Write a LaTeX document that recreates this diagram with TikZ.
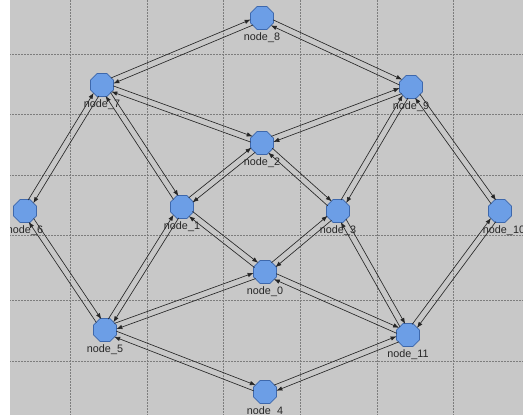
\documentclass[tikz,border=0pt]{standalone}
\usepackage{fontspec}
\setmainfont{Liberation Sans}
\usetikzlibrary{arrows.meta, positioning, shapes.geometric, calc}
\definecolor{bggray}{RGB}{200,200,200}
\definecolor{gridgray}{RGB}{125,125,125}
\definecolor{nodeblue}{RGB}{108,158,230}
\definecolor{nodeedge}{RGB}{62,104,172}

\begin{document}
\begin{tikzpicture}[
x=1pt, y=-1pt,
node distance=2.5pt,
host/.style={regular polygon, regular polygon sides=8, minimum size=25pt, inner sep=0pt, fill=nodeblue, draw=nodeedge, line width=0.8pt},
tag/.style={font=\fontsize{10.8}{12}\selectfont, text=black!85, inner sep=0pt},
arr/.style={-{Latex[length=6pt, width=4.5pt]}, line width=0.65pt, black!85, shorten <=11pt, shorten >=11pt},
gridline/.style={gridgray, dash pattern=on 1.5pt off 1.5pt, line width=0.45pt}
]
\useasboundingbox (0,0) rectangle (523,415);
\fill[white] (0,0) rectangle (523,415);
\clip (10,0) rectangle (523,415);
\fill[bggray] (10,0) rectangle (523,415);
\foreach \gx in {70,147,223,300,377,453} \draw[gridline] (\gx,0) -- (\gx,415);
\foreach \gy in {54,114,175,235,300,361} \draw[gridline] (0,\gy) -- (523,\gy);

% hosts
\node[host] (n8) at (262,18) {};
\node[host] (n7) at (102,85) {};
\node[host] (n9) at (411,87) {};
\node[host] (n2) at (262,143) {};
\node[host] (n6) at (25,211) {};
\node[host] (n1) at (182,207) {};
\node[host] (n3) at (338,211) {};
\node[host] (n10) at (500,211) {};
\node[host] (n0) at (265,272) {};
\node[host] (n5) at (105,330) {};
\node[host] (n11) at (408,335) {};
\node[host] (n4) at (265,392) {};

% labels
\node[tag, below=of n8] (t8) {node\_8};
\node[tag, below=of n7] (t7) {node\_7};
\node[tag, below=of n9] (t9) {node\_9};
\node[tag, below=of n2] (t2) {node\_2};
\node[tag, below=of n6] (t6) {node\_6};
\node[tag, below=of n1] (t1) {node\_1};
\node[tag, below=of n3] (t3) {node\_3};
\node[tag, below=of n10, xshift=4pt] (t10) {node\_10};
\node[tag, below=of n0] (t0) {node\_0};
\node[tag, below=of n5] (t5) {node\_5};
\node[tag, below=of n11] (t11) {node\_11};
\node[tag, below=of n4] (t4) {node\_4};

% links, one arrow each way
\foreach \a/\b in {n8/n7, n8/n9, n7/n2, n9/n2, n7/n6, n7/n1, n9/n3, n9/n10,
                   n2/n1, n2/n3, n6/n5, n1/n5, n1/n0, n3/n0, n3/n11, n10/n11,
                   n0/n5, n0/n11, n5/n4, n11/n4} {
  \draw[arr] ($(\a)!3pt!90:(\b)$) -- ($(\b)!3pt!-90:(\a)$);
  \draw[arr] ($(\b)!3pt!90:(\a)$) -- ($(\a)!3pt!-90:(\b)$);
}
\end{tikzpicture}
\end{document}
